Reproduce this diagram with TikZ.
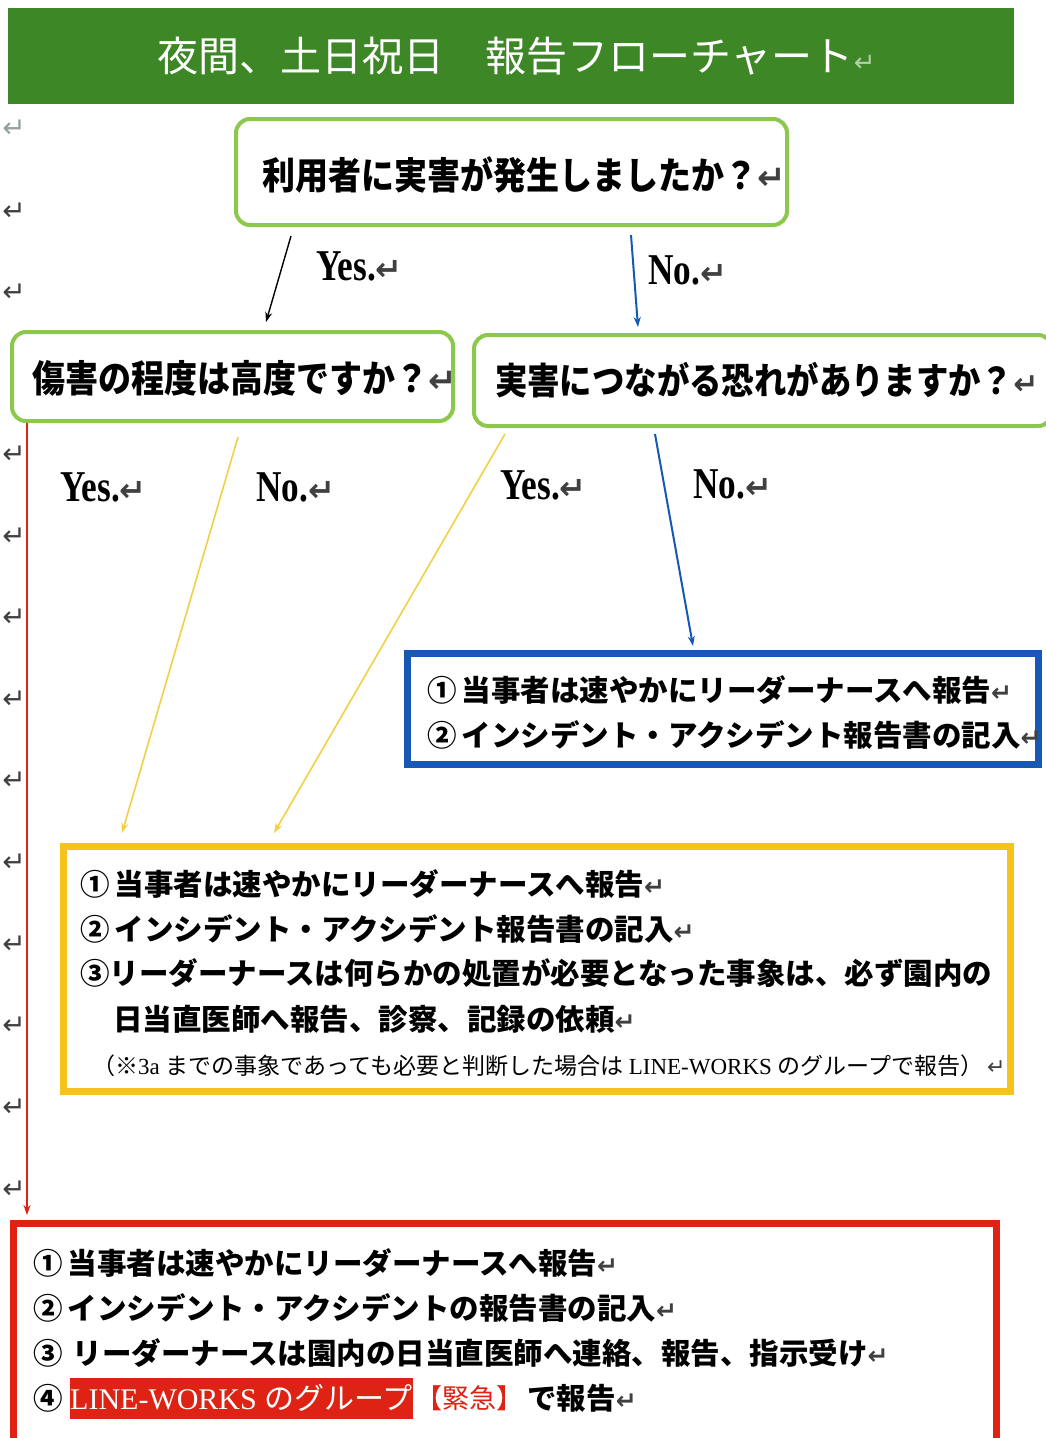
\documentclass[tikz,border=0pt]{standalone}
\usepackage{fontspec}
\setmainfont{Liberation Serif}
\newfontfamily\cjk{Noto Sans CJK JP}
\newfontfamily\cjkc[FakeStretch=0.88]{Noto Sans CJK JP}
\newfontfamily\dv{DejaVu Sans}
\usetikzlibrary{arrows.meta}
\definecolor{titlegreen}{RGB}{62,135,38}
\definecolor{boxgreen}{RGB}{140,200,75}
\definecolor{fblue}{RGB}{22,88,180}
\definecolor{fyellow}{RGB}{245,195,25}
\definecolor{ayellow}{RGB}{242,208,70}
\definecolor{fred}{RGB}{222,35,20}
\definecolor{markgray}{RGB}{150,160,160}
\newcommand{\rmark}[1]{{\dv\fontsize{28}{28}\selectfont\color{#1}↵}}
\newcommand{\tmark}[1]{{\dv\fontsize{#1}{#1}\selectfont\color{black!75}↵}}
\tikzset{
  qbox/.style={draw=boxgreen, line width=4pt, rounded corners=14pt, inner sep=0pt},
  fbox/.style={line width=7pt, inner sep=0pt},
  qtext/.style={anchor=west, inner sep=0pt, font=\cjkc\bfseries\fontsize{37.5}{40}\selectfont},
  body/.style={anchor=west, inner sep=0pt, font=\cjk\bfseries\fontsize{29.5}{32}\selectfont},
  lbl/.style={anchor=west, inner sep=0pt, font=\bfseries\fontsize{44}{44}\selectfont},
  marg/.style={inner sep=0pt},
  arr/.style={-{Stealth[length=10pt,width=7pt]}, line width=1.4pt},
}
\newcommand{\cond}[1]{\scalebox{0.8}[1]{#1}}
\begin{document}
\begin{tikzpicture}[x=1pt,y=-1pt]
\useasboundingbox (0,0) rectangle (1046,1438);
\clip (0,0) rectangle (1046,1438);
\fill[white] (0,0) rectangle (1046,1438);

% title
\node[fill=titlegreen, minimum width=1006pt, minimum height=96pt, inner sep=0pt] (title) at (511,56) {};
\node[anchor=west, inner sep=0pt, text=white, font=\cjk\fontsize{41}{44}\selectfont] (titletext) at (157,56) {夜間、土日祝日　報告フローチャート{\dv\fontsize{26}{26}\selectfont\color{white!60!titlegreen}↵}};

% margin marks
\node[marg] (m0) at (14,129) {\rmark{markgray}};
\foreach \yy [count=\i] in {212,293,455,537,618,700,781,863,945,1026,1108,1190}
  \node[marg] (m\i) at (14,\yy) {\rmark{black!75}};

% question boxes
\node[qbox, minimum width=551pt, minimum height=106pt] (q1) at (511.5,172) {};
\node[qtext] (q1t) at (262,175) {利用者に実害が発生しましたか？\tmark{34}};
\node[qbox, minimum width=441pt, minimum height=89pt] (q2) at (232.5,376.5) {};
\node[qtext] (q2t) at (32,378) {傷害の程度は高度ですか？\tmark{34}};
\node[qbox, minimum width=578pt, minimum height=91pt] (q3) at (763,380.5) {};
\node[qtext, font=\cjkc\bfseries\fontsize{36.8}{40}\selectfont] (q3t) at (495,380) {実害につながる恐れがありますか？\tmark{30}};

% arrows level 1
\coordinate (a1s) at (291,236); \coordinate (a1e) at (266,322);
\draw[arr, black] (a1s) -- (a1e);
\node[lbl] (yes1) at (316,266) {\cond{Yes.}\tmark{32}};
\coordinate (a2s) at (631,235); \coordinate (a2e) at (638,327);
\draw[arr, fblue, line width=2pt] (a2s) -- (a2e);
\node[lbl] (no1) at (648,270) {\cond{No.}\tmark{32}};

% labels level 2
\node[lbl] (yes2) at (60,487) {\cond{Yes.}\tmark{32}};
\node[lbl] (no2) at (256,487) {\cond{No.}\tmark{32}};
\node[lbl] (yes3) at (500,485) {\cond{Yes.}\tmark{32}};
\node[lbl] (no3) at (693,484) {\cond{No.}\tmark{32}};

% blue result box
\node[fbox, draw=fblue, minimum width=631pt, minimum height=111pt] (bb) at (723,709) {};
\node[body] (b1) at (427,690) {①\,当事者は速やかにリーダーナースへ報告\tmark{25}};
\node[body] (b2) at (427,735) {②\,インシデント・アクシデント報告書の記入\tmark{25}};

% yellow result box
\node[fbox, draw=fyellow, minimum width=947pt, minimum height=245pt] (yb) at (537,969) {};
\node[body] (y1) at (80,884) {①\,当事者は速やかにリーダーナースへ報告\tmark{25}};
\node[body] (y2) at (80,929) {②\,インシデント・アクシデント報告書の記入\tmark{25}};
\node[body] (y3) at (80,973) {③リーダーナースは何らかの処置が必要となった事象は、必ず園内の};
\node[body] (y4) at (113,1019) {日当直医師へ報告、診察、記録の依頼\tmark{25}};
\node[anchor=west, inner sep=0pt, font=\fontsize{23}{26}\selectfont] (y5) at (92,1066)
  {{\cjk （※}3a {\cjk までの事象であっても必要と判断した場合は} LINE-WORKS {\cjk のグループで報告）}\,\tmark{22}};

% red result box
\node[fbox, draw=fred, minimum width=983pt, minimum height=240pt] (rb) at (505,1343.5) {};
\node[body] (r1) at (33,1263) {①\,当事者は速やかにリーダーナースへ報告\tmark{25}};
\node[body] (r2) at (33,1308) {②\,インシデント・アクシデントの報告書の記入\tmark{25}};
\node[body] (r3) at (33,1353) {③\hspace{10pt}リーダーナースは園内の日当直医師へ連絡、報告、指示受け\tmark{25}};
\node[body] (r4) at (33,1398) {④};
\node[anchor=west, fill=fred, inner sep=0pt, minimum width=340pt, minimum height=41pt, text=white, font=\fontsize{30}{32}\selectfont] (hl) at (70,1398) {LINE-WORKS {\cjk のグループ}};
\node[anchor=west, inner xsep=3pt, inner ysep=0pt, text=fred, font=\cjk\fontsize{27}{30}\selectfont] (kk) at (hl.east) {【緊急】};
\node[body, anchor=west] (r4b) at (kk.east) {で報告\tmark{25}};

% arrows level 2
\coordinate (rs) at (27,423); \coordinate (re) at (27,1215);
\draw[arr, fred, line width=1.5pt] (rs) -- (re);
\coordinate (ya1s) at (238,437); \coordinate (ya1e) at (122,833);
\draw[arr, ayellow, line width=1.6pt] (ya1s) -- (ya1e);
\coordinate (ya2s) at (505,434); \coordinate (ya2e) at (274,833);
\draw[arr, ayellow, line width=1.6pt] (ya2s) -- (ya2e);
\coordinate (ba1s) at (655,434); \coordinate (ba1e) at (693,646);
\draw[arr, fblue, line width=2pt] (ba1s) -- (ba1e);
\end{tikzpicture}
\end{document}
